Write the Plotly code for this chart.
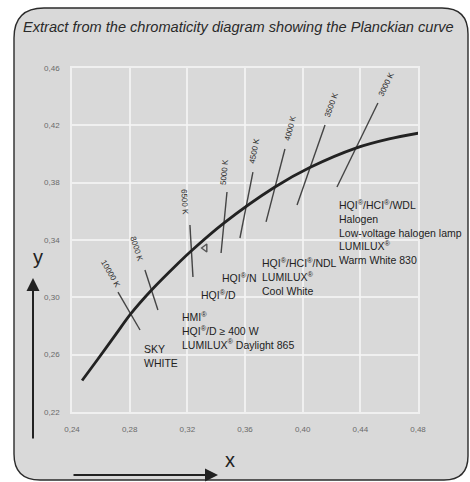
import math
import plotly.graph_objects as go

# Planckian locus (CIE 1931 chromaticity x, y)
locus_x = [0.247, 0.258, 0.270, 0.2807, 0.2952, 0.3135, 0.3221, 0.3451, 0.3805, 0.4053, 0.4369, 0.4600, 0.4814]
locus_y = [0.242, 0.257, 0.2736, 0.2884, 0.3051, 0.3236, 0.3318, 0.3516, 0.3768, 0.3907, 0.4041, 0.4105, 0.4147]

# Isotherm segments (upper end, lower end) and their temperature labels
iso_names = ["10000 K", "8000 K", "6500 K", "5000 K", "4500 K", "4000 K", "3500 K", "3000 K"]
iso_x_top = [0.2719, 0.2906, 0.3218, 0.3475, 0.3655, 0.3877, 0.4155, 0.4522]
iso_y_top = [0.3037, 0.3191, 0.3505, 0.3735, 0.3874, 0.4035, 0.4202, 0.4356]
iso_x_bot = [0.2872, 0.2996, 0.3239, 0.3434, 0.3565, 0.3746, 0.3961, 0.4238]
iso_y_bot = [0.2772, 0.2912, 0.3142, 0.3309, 0.3414, 0.3526, 0.3644, 0.3770]
iso_label_x = [0.2664, 0.2851, 0.3184, 0.3454, 0.3669, 0.3912, 0.4203, 0.4578]
iso_label_y = [0.3163, 0.3337, 0.3665, 0.3874, 0.4021, 0.4181, 0.4342, 0.4488]

# Lamp groups: text and anchor (left edge, top of block)
lamp_texts = [
    "SKY<br>WHITE",
    "HMI<sup>®</sup><br>HQI<sup>®</sup>/D ≥ 400 W<br>LUMILUX<sup>®</sup> Daylight 865",
    "HQI<sup>®</sup>/D",
    "HQI<sup>®</sup>/N",
    "HQI<sup>®</sup>/HCI<sup>®</sup>/NDL<br>LUMILUX<sup>®</sup><br>Cool White",
    "HQI<sup>®</sup>/HCI<sup>®</sup>/WDL<br>Halogen<br>Low-voltage halogen lamp<br>LUMILUX<sup>®</sup><br>Warm White 830",
]
lamp_x = [0.2886, 0.3149, 0.3281, 0.3427, 0.3704, 0.4238]
lamp_y = [0.2695, 0.2925, 0.3080, 0.3198, 0.3300, 0.3705]

# Illuminant A marker
illum_a_x = [0.3323]
illum_a_y = [0.3344]

x_ticks = [0.24, 0.28, 0.32, 0.36, 0.40, 0.44, 0.48]
y_ticks = [0.22, 0.26, 0.30, 0.34, 0.38, 0.42, 0.46]

W, H = 470, 482
ML, MR, MT, MB = 72, 52, 68, 70
PW, PH = W - ML - MR, H - MT - MB
X0, X1 = 0.24, 0.48
Y0, Y1 = 0.22, 0.46
sx = PW / (X1 - X0)
sy = PH / (Y1 - Y0)


def px(x):
    return (x - ML) / PW


def py(y):
    return (H - MB - y) / PH


BG = "#d9d9d9"
INK = "#222222"
FONT = "Liberation Sans, Arial, sans-serif"

fig = go.Figure()

# isotherm segments
for i in range(len(iso_names)):
    fig.add_trace(go.Scatter(
        x=[iso_x_top[i], iso_x_bot[i]], y=[iso_y_top[i], iso_y_bot[i]],
        mode="lines", line=dict(color="#444444", width=1.4),
        hoverinfo="skip", showlegend=False))

# Planckian curve
fig.add_trace(go.Scatter(
    x=locus_x, y=locus_y, mode="lines",
    line=dict(color=INK, width=2.8, shape="spline", smoothing=0.8),
    hoverinfo="skip", showlegend=False))

fig.add_trace(go.Scatter(
    x=illum_a_x, y=illum_a_y, mode="markers",
    marker=dict(symbol="triangle-left-open", size=7, color="#555555", line=dict(width=1.4)),
    hoverinfo="skip", showlegend=False))

annotations = []

# temperature labels along the isotherms
for i, name in enumerate(iso_names):
    dx = (iso_x_bot[i] - iso_x_top[i]) * sx
    dy = -(iso_y_bot[i] - iso_y_top[i]) * sy
    if dx >= 0:
        ang = math.degrees(math.atan2(dy, dx))
    else:
        ang = math.degrees(math.atan2(-dy, -dx))
    annotations.append(dict(
        x=iso_label_x[i], y=iso_label_y[i], xref="x", yref="y",
        text=name, showarrow=False, textangle=ang,
        font=dict(family=FONT, size=8, color="#2a2a2a")))

for t, x, y in zip(lamp_texts, lamp_x, lamp_y):
    annotations.append(dict(
        x=x, y=y, xref="x", yref="y", text=t, showarrow=False,
        xanchor="left", yanchor="top", align="left",
        font=dict(family=FONT, size=10.5, color=INK)))

# title
annotations.append(dict(
    x=px(21), y=py(27), xref="paper", yref="paper",
    text="<i>Extract from the chromaticity diagram showing the Planckian curve</i>",
    showarrow=False, xanchor="left", yanchor="middle",
    font=dict(family=FONT, size=14.6, color="#2a2a2a")))

# axis arrows and letters
annotations.append(dict(
    x=px(33), y=py(278), xref="paper", yref="paper", ax=0, ay=162,
    text="", showarrow=True, arrowhead=2, arrowsize=1.3, arrowwidth=2,
    arrowcolor=INK))
annotations.append(dict(
    x=px(31), y=py(257), xref="paper", yref="paper", text="y",
    showarrow=False, font=dict(family=FONT, size=20, color=INK)))
annotations.append(dict(
    x=px(218), y=py(475), xref="paper", yref="paper", ax=-146, ay=0,
    text="", showarrow=True, arrowhead=2, arrowsize=1.3, arrowwidth=2,
    arrowcolor=INK))
annotations.append(dict(
    x=px(230), y=py(473), xref="paper", yref="paper", text="x",
    showarrow=False, font=dict(family=FONT, size=20, color=INK)))

# rounded panel behind the chart
L, T, R, B = 14, 8, 468, 480
r1, r2, r3, r4 = 30, 26, 24, 26
path = (
    f"M {px(L)},{py(T + r1)} Q {px(L)},{py(T)} {px(L + r1)},{py(T)} "
    f"L {px(R - r2)},{py(T)} Q {px(R)},{py(T)} {px(R)},{py(T + r2)} "
    f"L {px(R)},{py(B - r3)} Q {px(R)},{py(B)} {px(R - r3)},{py(B)} "
    f"L {px(L + r4)},{py(B)} Q {px(L)},{py(B)} {px(L)},{py(B - r4)} Z"
)
shapes = [dict(type="path", xref="paper", yref="paper", path=path,
               fillcolor=BG, line=dict(color="#2b2b2b", width=1.4), layer="below")]

grid = "rgba(245,245,245,0.8)"
fig.update_layout(
    width=W, height=H,
    margin=dict(l=ML, r=MR, t=MT, b=MB),
    paper_bgcolor="white", plot_bgcolor=BG,
    separators=",.",
    showlegend=False,
    annotations=annotations, shapes=shapes,
    xaxis=dict(range=[X0, X1], tickvals=x_ticks, tickformat=".2f",
               showgrid=True, gridcolor=grid, gridwidth=1.6,
               showline=True, mirror=True, linecolor=grid, linewidth=1.6,
               zeroline=False, ticks="", ticklabelstandoff=9,
               tickfont=dict(family=FONT, size=8, color="#6a6a6a")),
    yaxis=dict(range=[Y0, Y1], tickvals=y_ticks, tickformat=".2f",
               showgrid=True, gridcolor=grid, gridwidth=1.6,
               showline=True, mirror=True, linecolor=grid, linewidth=1.6,
               zeroline=False, ticks="", ticklabelstandoff=9,
               tickfont=dict(family=FONT, size=8, color="#6a6a6a")),
)

fig.write_html("out.html")
